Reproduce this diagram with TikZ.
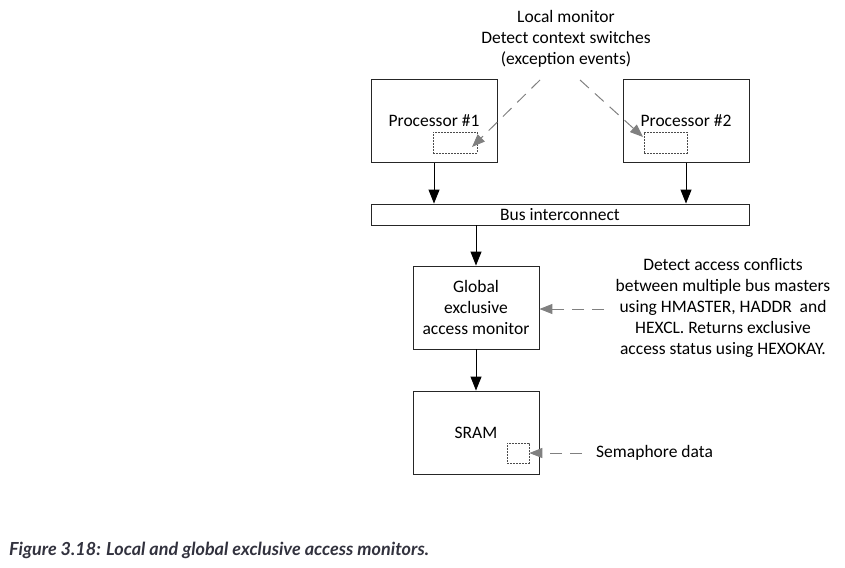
\documentclass[tikz,border=0pt]{standalone}
\usepackage{fontspec}
\setmainfont{Carlito}
\newfontfamily\capfont{Lato}
\usetikzlibrary{arrows.meta}
\definecolor{dgray}{RGB}{128,128,128}
\definecolor{capcol}{RGB}{50,50,62}
\tikzset{
  blk/.style={draw=black!85, line width=0.9pt, inner sep=0pt, align=center, font=\fontsize{17.5}{21}\selectfont},
  inbox/.style={draw=black!70, line width=0.6pt, dash pattern=on 2pt off 1pt, inner sep=0pt},
  sarrow/.style={line width=1pt, -{Triangle[length=14pt,width=11pt]}},
  darrow/.style={draw=dgray, line width=1pt, dash pattern=on 12pt off 8pt, -{Triangle[length=13pt,width=10pt]}, color=dgray},
  txt/.style={align=center, inner sep=0pt, font=\fontsize{17.5}{21}\selectfont}
}
\begin{document}
\begin{tikzpicture}[x=1pt,y=-1pt]
\useasboundingbox (0,0) rectangle (845,567);
% boxes
\node[blk, minimum width=126pt, minimum height=83pt] (p1) at (434,121) {Processor \#1};
\node[blk, minimum width=126pt, minimum height=83pt] (p2) at (686,121) {Processor \#2};
\node[blk, minimum width=378pt, minimum height=21pt] (bus) at (560,214.5) {Bus interconnect};
\node[blk, minimum width=126pt, minimum height=83pt] (gm) at (476,307.5) {Global\\exclusive\\access monitor};
\node[blk, minimum width=126pt, minimum height=83pt] (sram) at (476,432.5) {SRAM};
% inner dashed boxes
\node[inbox, minimum width=44pt, minimum height=21pt] (l1) at (455,142.5) {};
\node[inbox, minimum width=43pt, minimum height=21pt] (l2) at (665.5,142.5) {};
\node[inbox, minimum width=22pt, minimum height=20pt] (sd) at (518,453) {};
% texts
\node[txt] (lm) at (566,39) {Local monitor\\Detect context switches\\(exception events)};
\node[txt] (gt) at (723,308) {Detect access conflicts\\between multiple bus masters\\using HMASTER, HADDR\ \ and\\HEXCL. Returns exclusive\\access status using HEXOKAY.};
\node[txt, anchor=west] (st) at (596,453) {Semaphore data};
% helper coordinates
\coordinate (a1s) at (540,80);
\coordinate (a1e) at (472,147);
\coordinate (a2s) at (580,80);
\coordinate (a2e) at (643,137);
\coordinate (gs) at (604,309);
\coordinate (ss) at (582,453);
% solid arrows
\draw[sarrow] (p1.south) -- (p1.south |- bus.north);
\draw[sarrow] (p2.south) -- (p2.south |- bus.north);
\draw[sarrow] (bus.south -| gm.north) -- (gm.north);
\draw[sarrow] (gm.south) -- (sram.north);
% dashed arrows
\draw[darrow] (a1s) -- (a1e);
\draw[darrow] (a2s) -- (a2e);
\draw[darrow] (gs) -- (gm.east |- gs);
\draw[darrow] (ss) -- (sd.east);
% caption
\node[anchor=west, inner sep=0pt, text=capcol, font=\capfont\bfseries\itshape\fontsize{18}{21}\selectfont] (cap) at (9,550) {Figure 3.18: Local and global exclusive access monitors.};
\end{tikzpicture}
\end{document}
